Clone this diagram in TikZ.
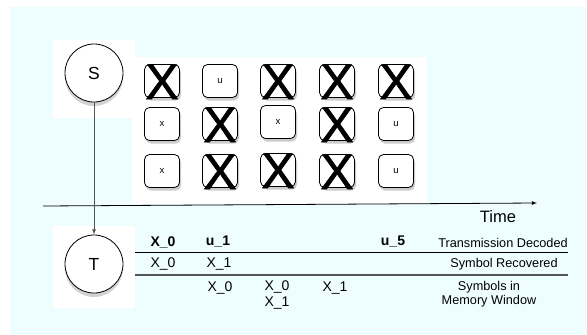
\documentclass[tikz,border=0pt]{standalone}
\usepackage{fontspec}
\setmainfont{Liberation Sans}
\newfontfamily\crossfont[FakeBold=1.2]{Liberation Sans}
\usetikzlibrary{arrows, shadows}
\definecolor{paleback}{RGB}{238,254,255}
\definecolor{darkline}{RGB}{85,85,85}
\tikzset{
    cell/.style={draw=black, fill=white, rounded corners=5pt, minimum width=35pt, minimum height=33pt, inner sep=0pt, line width=0.8pt, font=\fontsize{9.5}{10}\selectfont, drop shadow={opacity=0.4, shadow xshift=1.5pt, shadow yshift=-3pt}},
    cross/.style={font=\crossfont\fontsize{50}{40}\selectfont, inner sep=0pt, text height=36pt, text depth=0pt},
    state/.style={circle, draw=black, fill=white, minimum size=58pt, inner sep=0pt, line width=0.8pt, font=\fontsize{17.5}{18}\selectfont, drop shadow={opacity=0.35, shadow xshift=0pt, shadow yshift=-4pt}},
    entry/.style={font=\fontsize{14}{16}\selectfont, inner sep=0pt},
    rowlabel/.style={font=\fontsize{12.7}{14}\selectfont, align=center, inner sep=0pt}
}

\begin{document}
\begin{tikzpicture}[x=1pt, y=-1pt]
    \useasboundingbox (0,0) rectangle (587,335);
    \fill[paleback] (10,6.5) rectangle (587,335);
    % white patches
    \fill[white] (53,40) rectangle (135,118);
    \fill[white] (132,57) rectangle (427,204);
    \fill[white] (53,226) rectangle (135,308);
    % time axis
    \coordinate (axisstart) at (43,206);
    \coordinate (axisend) at (537,203);
    \draw[-latex, line width=0.8pt] (axisstart) -- (axisend);
    \node[font=\fontsize{16.5}{18}\selectfont] (time) at (498,217) {Time};
    % states
    \node[state] (s) at (94,73) {S};
    \node[state] (t) at (94,264) {T};
    \draw[-latex, darkline, line width=0.8pt] (s) -- (t);
    % received symbols
    \node[cell] (a1) at (162,81) {};
    \node[cell] (a2) at (220,81) {u};
    \node[cell] (a3) at (278,81) {};
    \node[cell] (a4) at (337,81) {};
    \node[cell] (a5) at (396,81) {};
    \node[cell] (b1) at (162,124) {x};
    \node[cell] (b2) at (220,124) {};
    \node[cell] (b3) at (278,122) {x};
    \node[cell] (b4) at (337,124) {};
    \node[cell] (b5) at (396,124) {u};
    \node[cell] (c1) at (162,171) {x};
    \node[cell] (c2) at (220,171) {};
    \node[cell] (c3) at (278,170) {};
    \node[cell] (c4) at (337,171) {};
    \node[cell] (c5) at (396,171) {u};
    % erased ones
    \node[cross] (xa1) at (a1) {X};
    \node[cross] (xa3) at (a3) {X};
    \node[cross] (xa4) at (a4) {X};
    \node[cross] (xa5) at (a5) {X};
    \node[cross] (xb2) at (b2) {X};
    \node[cross] (xb4) at (b4) {X};
    \node[cross] (xc2) at (c2) {X};
    \node[cross] (xc3) at (c3) {X};
    \node[cross] (xc4) at (c4) {X};
    % table
    \coordinate (rule1a) at (135,252.5);
    \coordinate (rule1b) at (568,252.5);
    \coordinate (rule2a) at (135,275);
    \coordinate (rule2b) at (568,275);
    \draw[line width=0.8pt] (rule1a) -- (rule1b);
    \draw[darkline, line width=1.4pt] (rule2a) -- (rule2b);
    \node[entry, font=\fontsize{14}{16}\selectfont\bfseries] (d0) at (163,242) {X\_0};
    \node[entry, font=\fontsize{14}{16}\selectfont\bfseries] (d1) at (218,242) {u\_1};
    \node[entry, font=\fontsize{14}{16}\selectfont\bfseries] (d5) at (393,242) {u\_5};
    \node[entry] (r0) at (163,264) {X\_0};
    \node[entry] (r1) at (219,264) {X\_1};
    \node[entry] (m1) at (220,288) {X\_0};
    \node[entry, align=left] (m2) at (277,294.5) {X\_0\\X\_1};
    \node[entry] (m3) at (335,288) {X\_1};
    \node[rowlabel] (decoded) at (503,243) {Transmission Decoded};
    \node[rowlabel] (recovered) at (504,264.5) {Symbol Recovered};
    \node[rowlabel] (window) at (489,294) {Symbols in\\Memory Window};
\end{tikzpicture}
\end{document}
